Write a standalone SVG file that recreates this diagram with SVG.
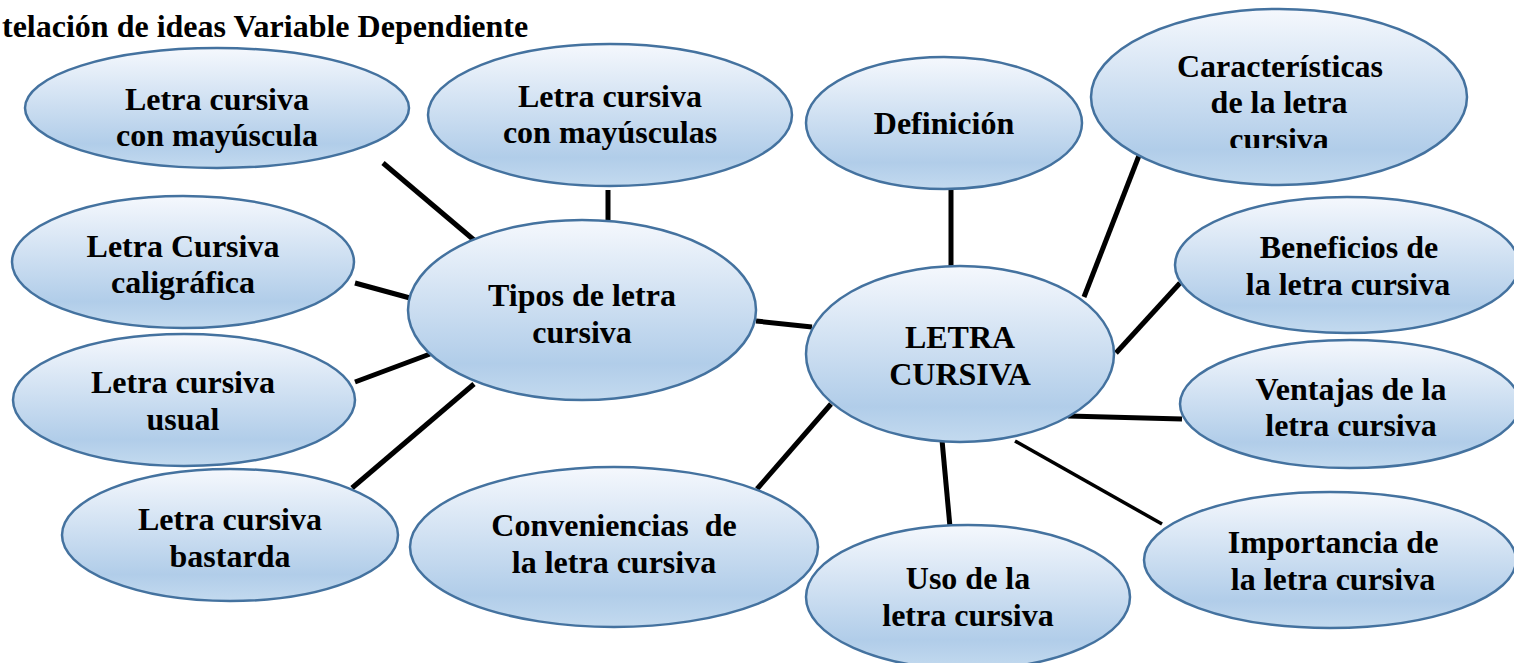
<svg xmlns="http://www.w3.org/2000/svg" width="1514" height="663" viewBox="0 0 1514 663">
<defs>
<linearGradient id="g" x1="0" y1="0" x2="0" y2="1">
<stop offset="0" stop-color="#f5f8fd"/>
<stop offset="0.8" stop-color="#b1cde9"/>
<stop offset="1" stop-color="#c3daef"/>
</linearGradient>
<clipPath id="clipCar"><rect x="1080" y="0" width="434" height="148"/></clipPath>
</defs>
<style>
.n{fill:url(#g);stroke:#44729f;stroke-width:2.5}
.t{font-family:"Liberation Serif","Times New Roman",serif;font-weight:bold;font-size:32px;fill:#000;text-anchor:middle}
.c line{stroke:#000;stroke-width:5}
</style>
<rect width="1514" height="663" fill="#fff"/>
<text x="2" y="37" style="font-family:'Liberation Serif','Times New Roman',serif;font-weight:bold;font-size:32px">telación de ideas Variable Dependiente</text>
<g class="c" id="connectors">
<line x1="383" y1="163" x2="474" y2="240"/>
<line x1="608" y1="190" x2="608" y2="222"/>
<line x1="355" y1="283" x2="410" y2="298"/>
<line x1="355" y1="382" x2="430" y2="354"/>
<line x1="352" y1="488" x2="474" y2="384"/>
<line x1="756" y1="321" x2="812" y2="327"/>
<line x1="951" y1="190" x2="951" y2="266"/>
<line x1="1147" y1="135" x2="1084" y2="297"/>
<line x1="1180" y1="283" x2="1116" y2="353"/>
<line x1="1068" y1="416" x2="1182" y2="419"/>
<line x1="1015" y1="441" x2="1162" y2="524" style="stroke-width:3.5"/>
<line x1="942" y1="440" x2="950" y2="527"/>
<line x1="831" y1="404" x2="757" y2="489"/>
</g>
<g id="n1"><ellipse class="n" cx="217" cy="108" rx="192" ry="60"/><text class="t" x="217" y="110">Letra cursiva</text><text class="t" x="217" y="146">con mayúscula</text></g>
<g id="n2"><ellipse class="n" cx="610" cy="115" rx="182" ry="71"/><text class="t" x="610" y="107">Letra cursiva</text><text class="t" x="610" y="143">con mayúsculas</text></g>
<g id="n3"><ellipse class="n" cx="944" cy="123" rx="138" ry="66"/><text class="t" x="944" y="134">Definición</text></g>
<g id="n4"><ellipse class="n" cx="1279" cy="97" rx="188" ry="88"/><g clip-path="url(#clipCar)"><text class="t" x="1280" y="77">Características</text><text class="t" x="1279" y="113">de la letra</text><text class="t" x="1279" y="150">cursiva</text></g></g>
<g id="n5"><ellipse class="n" cx="183" cy="262" rx="171" ry="66"/><text class="t" x="183" y="257">Letra Cursiva</text><text class="t" x="183" y="293">caligráfica</text></g>
<g id="n6"><ellipse class="n" cx="582" cy="310" rx="174" ry="90"/><text class="t" x="582" y="306">Tipos de letra</text><text class="t" x="582" y="343">cursiva</text></g>
<g id="n7"><ellipse class="n" cx="960" cy="354" rx="154" ry="88"/><text class="t" x="960" y="348">LETRA</text><text class="t" x="960" y="385">CURSIVA</text></g>
<g id="n8"><ellipse class="n" cx="1347" cy="265" rx="172" ry="68"/><text class="t" x="1349" y="258">Beneficios de</text><text class="t" x="1348" y="295">la letra cursiva</text></g>
<g id="n9"><ellipse class="n" cx="184" cy="400" rx="171" ry="66"/><text class="t" x="183" y="393">Letra cursiva</text><text class="t" x="183" y="430">usual</text></g>
<g id="n10"><ellipse class="n" cx="1350" cy="404" rx="170" ry="64"/><text class="t" x="1351" y="400">Ventajas de la</text><text class="t" x="1351" y="436">letra cursiva</text></g>
<g id="n11"><ellipse class="n" cx="230" cy="535" rx="168" ry="66"/><text class="t" x="230" y="530">Letra cursiva</text><text class="t" x="230" y="567">bastarda</text></g>
<g id="n12"><ellipse class="n" cx="614" cy="547" rx="204" ry="80"/><text class="t" x="614" y="536" xml:space="preserve">Conveniencias  de</text><text class="t" x="614" y="573">la letra cursiva</text></g>
<g id="n13"><ellipse class="n" cx="968" cy="597" rx="162" ry="72"/><text class="t" x="968" y="589">Uso de la</text><text class="t" x="968" y="626">letra cursiva</text></g>
<g id="n14"><ellipse class="n" cx="1330" cy="560" rx="186" ry="68"/><text class="t" x="1333" y="553">Importancia de</text><text class="t" x="1333" y="590">la letra cursiva</text></g>
</svg>
